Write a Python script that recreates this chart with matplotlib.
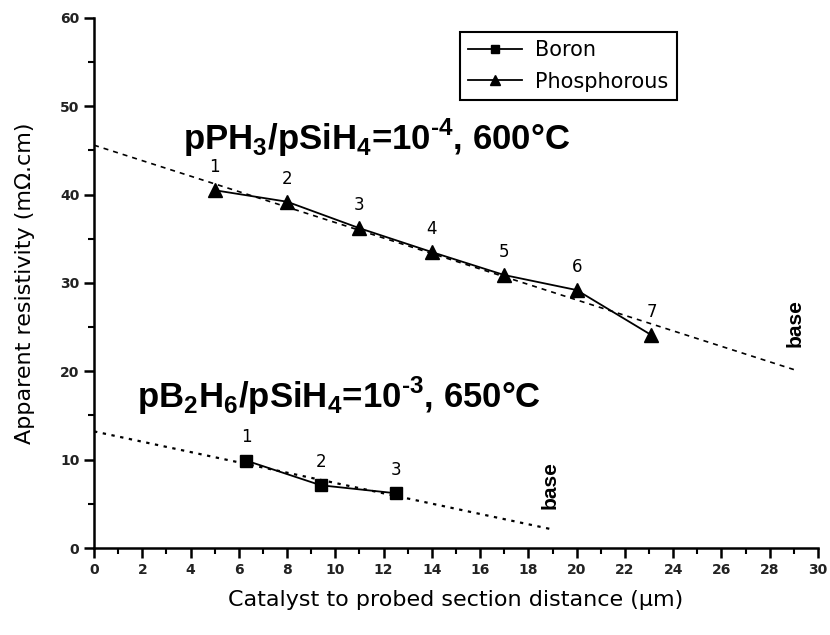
import matplotlib
matplotlib.use("Agg")
import matplotlib.pyplot as plt
from matplotlib.ticker import MultipleLocator

# measured points
p_x = [5, 8, 11, 14, 17, 20, 23.1]
p_y = [40.5, 39.2, 36.2, 33.5, 30.9, 29.2, 24.1]
b_x = [6.3, 9.4, 12.5]
b_y = [9.9, 7.1, 6.2]

# linear fits (end points)
p_fit_x = [0, 29]
p_fit_y = [45.6, 20.2]
b_fit_x = [0, 19]
b_fit_y = [13.2, 2.1]

p_labels = ["1", "2", "3", "4", "5", "6", "7"]
b_labels = ["1", "2", "3"]

plt.rcParams['font.family'] = ['DejaVu Sans']

fig = plt.figure(figsize=(8.3, 6.35), dpi=100)
ax = fig.add_axes([0.1133, 0.137, 0.8722, 0.8347])

ax.plot(p_fit_x, p_fit_y, color='black', linestyle=(0, (3, 3)), linewidth=1.2)
ax.plot(b_fit_x, b_fit_y, color='black', linestyle=(0, (1.5, 2.5)), linewidth=1.6)

ax.plot(b_x, b_y, color='black', linewidth=1.3, marker='s', markersize=8, label='Boron')
ax.plot(p_x, p_y, color='black', linewidth=1.3, marker='^', markersize=10, label='Phosphorous')

for x, y, t in zip(p_x, p_y, p_labels):
    ax.text(x, y + 1.6, t, ha='center', va='bottom', fontsize=12)
for x, y, t in zip(b_x, b_y, b_labels):
    ax.text(x, y + 1.6, t, ha='center', va='bottom', fontsize=12)

title_font = dict(family='Liberation Sans', fontsize=25, fontweight='bold', va='baseline')
ax.text(3.7, 45.1, 'pPH$_{\\mathregular{3}}$/pSiH$_{\\mathregular{4}}$=10$^{\\mathregular{\u20104}}$, 600°C',
        **title_font)
ax.text(1.8, 15.85, 'pB$_{\\mathregular{2}}$H$_{\\mathregular{6}}$/pSiH$_{\\mathregular{4}}$=10$^{\\mathregular{\u20103}}$, 650°C',
        **title_font)

base_font = dict(family='Liberation Sans', rotation=90, fontsize=15, fontweight='bold',
                 ha='center', va='center')
ax.text(29.05, 25.5, 'base', **base_font)
ax.text(18.9, 7.1, 'base', **base_font)

ax.set_xlim(0, 30)
ax.set_ylim(0, 60)
ax.xaxis.set_major_locator(MultipleLocator(2))
ax.xaxis.set_minor_locator(MultipleLocator(1))
ax.yaxis.set_major_locator(MultipleLocator(10))
ax.yaxis.set_minor_locator(MultipleLocator(5))
ax.spines['top'].set_visible(False)
ax.spines['right'].set_visible(False)
ax.spines['left'].set_linewidth(1.8)
ax.spines['bottom'].set_linewidth(1.8)
ax.tick_params(which='major', direction='out', length=7, width=1.8, labelsize=10,
               labelcolor='#222222')
ax.tick_params(which='minor', direction='out', length=4, width=1.5)
for lbl in ax.get_xticklabels() + ax.get_yticklabels():
    lbl.set_fontweight('bold')

ax.set_xlabel('Catalyst to probed section distance (µm)', fontsize=16, labelpad=10)
ax.set_ylabel('Apparent resistivity (mΩ.cm)', fontsize=16, labelpad=18)

leg = ax.legend(loc='upper left', bbox_to_anchor=(0.5055, 0.9736), borderaxespad=0,
                fontsize=15, frameon=True, fancybox=False, edgecolor='black',
                handlelength=2.6, handletextpad=0.6, borderpad=0.4, labelspacing=0.55,
                markerscale=0.75, framealpha=1)
leg.get_frame().set_linewidth(1.5)

fig.savefig('out.png', dpi=100)
